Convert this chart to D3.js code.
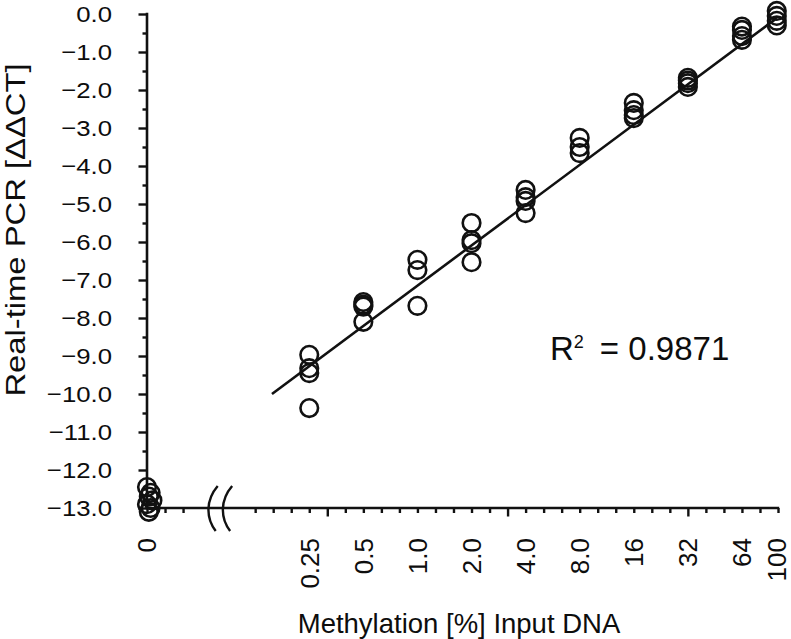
<!DOCTYPE html>
<html>
<head>
<meta charset="utf-8">
<script src="https://cdn.jsdelivr.net/npm/d3@7/dist/d3.min.js"></script>
<style>
  html, body { margin: 0; padding: 0; background: #ffffff; }
  svg { display: block; }
  text { font-family: "Liberation Sans", Arial, sans-serif; fill: #0d0d0d; }
</style>
</head>
<body>
<svg id="chart" width="791" height="639"></svg>
<script>
// ---------------- data ----------------
const concentrations = [0, 0.25, 0.5, 1, 2, 4, 8, 16, 32, 64, 100];
const tickLabels = ["0", "0.25", "0.5", "1.0", "2.0", "4.0", "8.0", "16", "32", "64", "100"];
// ΔΔCT replicate readings per concentration
const ddctValues = [
  [-12.45, -12.6, -12.7, -12.8, -12.9, -13.0, -13.1],
  [-8.97, -9.32, -9.45, -10.37],
  [-7.58, -7.65, -7.7, -8.1],
  [-6.47, -6.74, -7.68],
  [-5.5, -5.95, -6.03, -6.53],
  [-4.63, -4.82, -4.92, -5.24],
  [-3.26, -3.5, -3.66],
  [-2.34, -2.53, -2.66, -2.74],
  [-1.68, -1.75, -1.82, -1.92],
  [-0.33, -0.42, -0.58, -0.68],
  [0.08, -0.05, -0.18, -0.3]
];
// small horizontal offsets (axis units) of the 0 % replicates
const zeroOffsets = [0, 0.2, 0.1, 0.3, 0, 0.2, 0.1];
const yTicks = [0, -1, -2, -3, -4, -5, -6, -7, -8, -9, -10, -11, -12, -13];
// trend line (log2 fit)
const trendRange = [0.155, 100];
const trendIntercept = -7.15;   // value at 1 %
const trendSlope = 1.06;        // per doubling
const r2Text = "0.9871";

// ---------------- scales ----------------
// axis position: 0 % at origin, then 3 units per doubling, 1 % at unit 15
const pos = c => c === 0 ? 0 : 15 + 3 * Math.log2(c);
const x = d3.scaleLinear().domain([0, 35]).range([147, 778]);
const y = d3.scaleLinear().domain([-13, 0]).range([508, 14]);

const svg = d3.select("#chart");
const ink = "#111";

// ---------------- y axis ----------------
const yMinor = d3.range(-13, 0.01, 0.5);
const yAxis = d3.axisLeft(y).tickValues(yMinor).tickSize(4.5).tickFormat("");
const gy = svg.append("g").attr("transform", `translate(${x(0)},0)`).call(yAxis);
gy.select(".domain").remove();
gy.selectAll(".tick line").attr("stroke", ink).attr("stroke-width", 2.4)
  .attr("x2", d => Number.isInteger(d) ? -8.5 : -4.5);
svg.append("line").attr("x1", x(0)).attr("x2", x(0))
  .attr("y1", y(0) - 1.2).attr("y2", y(-13) + 1.2)
  .attr("stroke", ink).attr("stroke-width", 2.6);

svg.append("g").selectAll("text").data(yTicks).join("text")
  .attr("transform", d => `translate(112,${y(d)}) scale(1.12,1)`)
  .attr("text-anchor", "end").attr("dy", "0.36em")
  .style("font-size", "23px")
  .text(d => d3.format(".1f")(d));

// ---------------- x axis ----------------
const xTickUnits = d3.range(0, 36).filter(u => u < 3 || u > 5);
const gx = svg.append("g").attr("transform", `translate(0,${y(-13)})`)
  .call(d3.axisBottom(x).tickValues(xTickUnits).tickSize(5).tickFormat(""));
gx.select(".domain").remove();
gx.selectAll(".tick line").attr("stroke", ink).attr("stroke-width", 2.4)
  .attr("y2", d => d % 10 === 0 && d > 0 ? 8.5 : 5);
svg.append("line").attr("x1", x(0) - 1.2).attr("x2", x(35) + 1.2)
  .attr("y1", y(-13)).attr("y2", y(-13))
  .attr("stroke", ink).attr("stroke-width", 2.6);

// axis break marks
const by = y(-13);
const breakCenters = [x(3.7), x(4.5)];
svg.append("g").selectAll("path").data(breakCenters).join("path")
  .attr("d", cx => `M${cx + 4},${by - 22} C${cx - 8},${by - 8} ${cx - 8},${by + 10} ${cx + 2},${by + 23}`)
  .attr("fill", "none").attr("stroke", ink).attr("stroke-width", 2.4);

svg.append("g").selectAll("text").data(concentrations).join("text")
  .attr("transform", (d) => `translate(${x(pos(d))},538) rotate(-90)`)
  .attr("text-anchor", "end").attr("dy", "0.36em")
  .style("font-size", "26px")
  .text((d, i) => tickLabels[i]);

// ---------------- trend line ----------------
const trendPts = trendRange.map(c => [pos(c), trendIntercept + trendSlope * Math.log2(c)]);
svg.append("path")
  .attr("d", d3.line().x(d => x(d[0])).y(d => y(d[1]))(trendPts))
  .attr("fill", "none").attr("stroke", ink).attr("stroke-width", 2.6);

// ---------------- points ----------------
const points = [];
concentrations.forEach((c, i) => {
  ddctValues[i].forEach((v, j) => {
    points.push({ u: c === 0 ? pos(c) + zeroOffsets[j] : pos(c), v });
  });
});
svg.append("g").selectAll("circle").data(points).join("circle")
  .attr("cx", d => x(d.u)).attr("cy", d => y(d.v)).attr("r", 8.8)
  .attr("fill", "none").attr("stroke", ink).attr("stroke-width", 2.6);

// ---------------- labels ----------------
svg.append("text")
  .attr("transform", "translate(25,230) rotate(-90) scale(1.15,1)")
  .attr("text-anchor", "middle")
  .style("font-size", "28.5px")
  .text("Real-time PCR [ΔΔCT]");

svg.append("text")
  .attr("x", 459).attr("y", 633).attr("text-anchor", "middle")
  .style("font-size", "27.5px")
  .text("Methylation [%] Input DNA");

const r2 = svg.append("text").attr("x", 550).attr("y", 360).style("font-size", "33px");
r2.append("tspan").text("R");
r2.append("tspan").attr("dy", -12).style("font-size", "18px").text("2");
r2.append("tspan").attr("dy", 12).attr("dx", 16).text("= " + r2Text);
</script>
</body>
</html>
